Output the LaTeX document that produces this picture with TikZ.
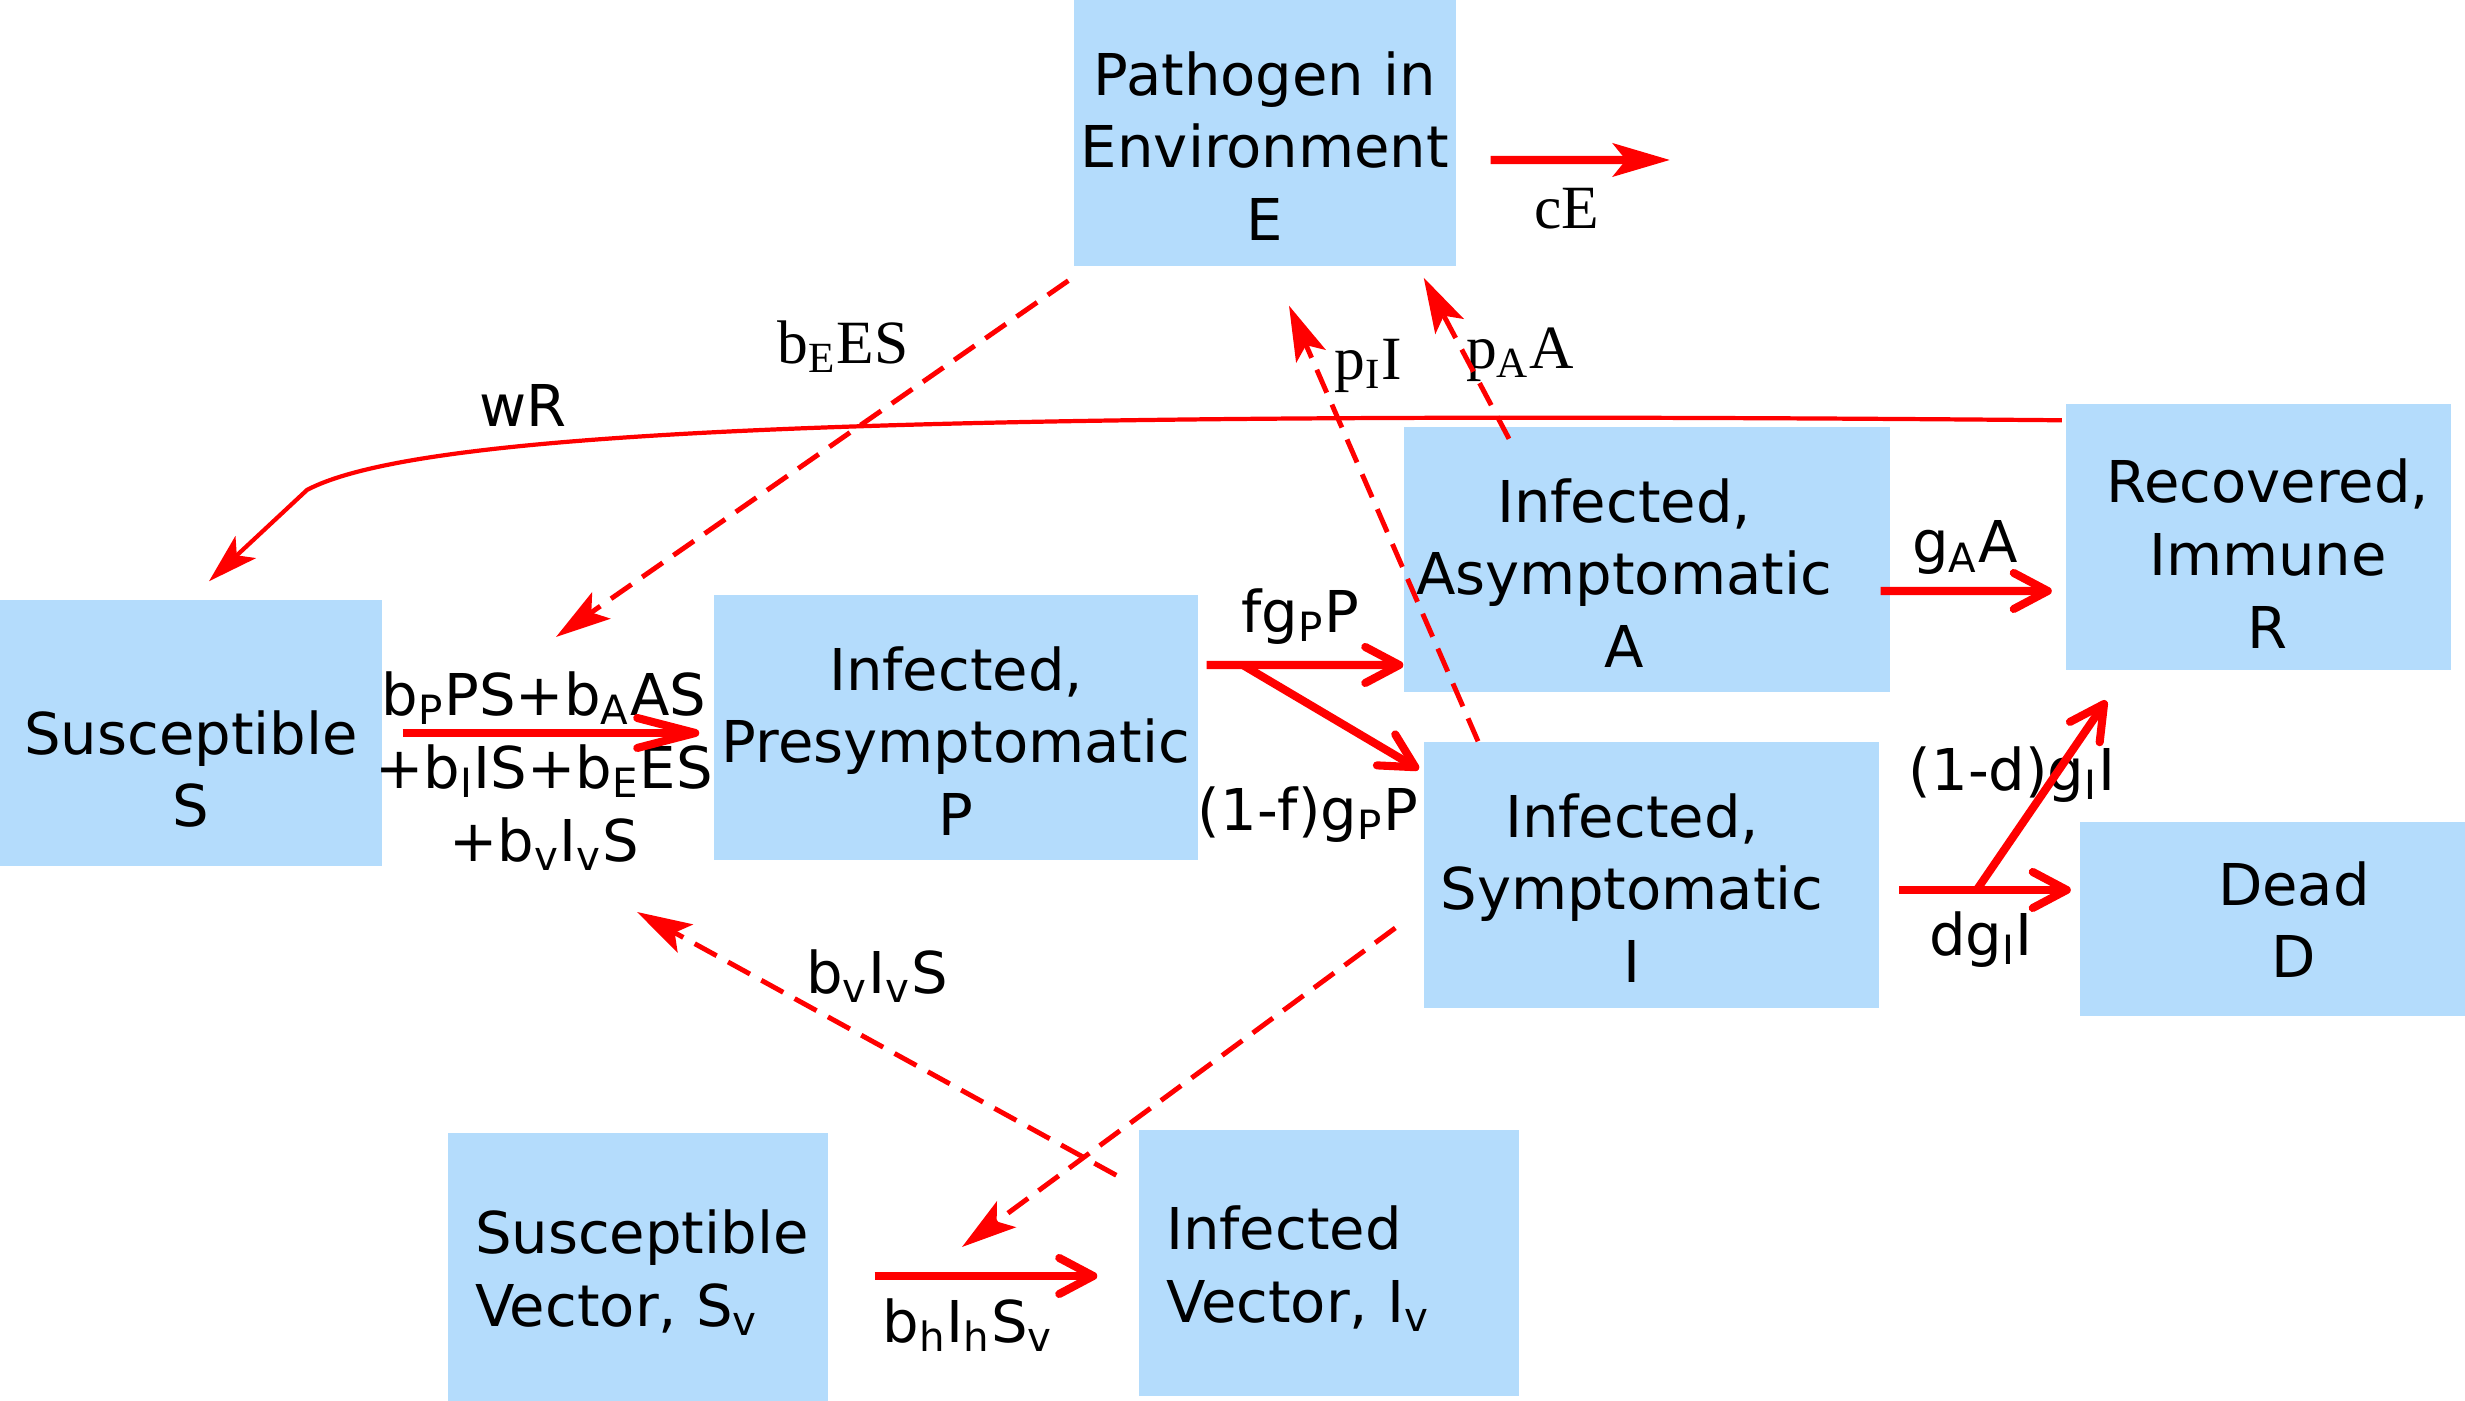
\documentclass[tikz,border=0pt]{standalone}
\usepackage{fontspec}
\setmainfont{DejaVu Sans}
\newfontfamily\timesfont{Liberation Serif}
\usetikzlibrary{arrows.meta}
\definecolor{CompBlue}{HTML}{B4DCFC}
\definecolor{FlowRed}{HTML}{FF0000}
\newcommand{\compfont}{\fontsize{16.4}{20.7}\selectfont}
\newcommand{\serifratefont}{\timesfont\fontsize{17.5}{21}\selectfont}

\begin{document}
\begin{tikzpicture}[
    lift/.style={execute at begin node={\rule{0pt}{#1}}},
    lift/.default=0.7cm,
    compartment/.style={fill=CompBlue,inner sep=0pt,align=center,font=\compfont,lift},
    vector/.style={compartment,lift=0.54cm,align=left,inner xsep=0.27cm,text width=3.26cm},
    rate/.style={inner sep=0pt,align=center,font=\compfont},
    serifrate/.style={inner sep=0pt,font=\serifratefont},
    flow/.style={-{Straight Barb[round,length=0.34cm,width=0.36cm]},line width=2.3pt,draw=FlowRed},
    longflow/.style={-{Straight Barb[round,length=0.58cm,width=0.3cm]},line width=2.3pt,draw=FlowRed},
    outflow/.style={-{Stealth[length=0.57cm,width=0.33cm,inset=0.13cm]},line width=2.3pt,draw=FlowRed},
    wane/.style={-{Stealth[length=0.5cm,width=0.3cm,inset=0.12cm]},line width=1.2pt,draw=FlowRed},
    contact/.style={-{Stealth[length=0.55cm,width=0.32cm,inset=0.12cm]},line width=1.4pt,
                    draw=FlowRed,dash pattern=on 0.25cm off 0.13cm}
  ]
    \useasboundingbox (0,0) rectangle (24.65,14.01);

    % compartments
    \node[compartment,text width=3.82cm,minimum height=2.66cm] (E) at (12.65,12.68) {Pathogen in\\Environment\\E};
    \node[compartment,lift=1.16cm,text width=3.82cm,minimum height=2.66cm] (S) at (1.91,6.68) {Susceptible\\S};
    \node[compartment,text width=4.84cm,minimum height=2.65cm] (P) at (9.56,6.73) {Infected,\\Presymptomatic\\P};
    \node[compartment,text width=4.86cm,minimum height=2.65cm] (A) at (16.47,8.41)
      {\hspace*{-0.46cm}Infected,\\\hspace*{-0.46cm}Asymptomatic\\\hspace*{-0.46cm}A};
    \node[compartment,text width=4.55cm,minimum height=2.66cm] (I) at (16.51,5.26)
      {\hspace*{-0.38cm}Infected,\\\hspace*{-0.38cm}Symptomatic\\\hspace*{-0.38cm}I};
    \node[compartment,lift=0.77cm,text width=3.85cm,minimum height=2.66cm] (R) at (22.58,8.64)
      {\hspace*{0.2cm}Recovered,\\\hspace*{0.2cm}Immune\\\hspace*{0.2cm}R};
    \node[compartment,lift=0.44cm,text width=3.85cm,minimum height=1.94cm] (D) at (22.72,4.82)
      {\hspace*{0.44cm}Dead\\\hspace*{0.44cm}D\rule[-0.25cm]{0pt}{0pt}};
    \node[vector,minimum height=2.68cm] (Sv) at (6.38,1.34) {Susceptible\\Vector, S\textsubscript{v}\rule[-0.24cm]{0pt}{0pt}};
    \node[vector,minimum height=2.66cm] (Iv) at (13.29,1.38) {Infected\\Vector, I\textsubscript{v}\rule[-0.24cm]{0pt}{0pt}};

    % rates
    \node[serifrate] (cE) at (15.67,11.92) {cE};
    \node[rate] (force) at (5.44,6.30) {b\textsubscript{P}PS+b\textsubscript{A}AS\\+b\textsubscript{I}IS+b\textsubscript{E}ES\\+b\textsubscript{v}I\textsubscript{v}S};
    \node[rate] (fgP) at (13.00,7.84) {fg\textsubscript{P}P};
    \node[rate] (nfgP) at (13.08,5.86) {(1-f)g\textsubscript{P}P};
    \node[rate] (gA) at (19.65,8.53) {g\textsubscript{A}A};
    \node[rate] (dgI) at (19.81,4.61) {dg\textsubscript{I}I};
    \node[rate] (ndgI) at (20.12,6.26) {(1-d)g\textsubscript{I}I};
    \node[rate] (bh) at (9.68,0.76) {b\textsubscript{h}I\textsubscript{h}S\textsubscript{v}};
    \node[rate] (wR) at (5.23,9.95) {wR};
    \node[serifrate] (bE) at (8.43,10.54) {b\textsubscript{E}ES};
    \node[serifrate] (pI) at (13.68,10.35) {p\textsubscript{I}I};
    \node[serifrate] (pA) at (15.20,10.46) {p\textsubscript{A}A};
    \node[rate] (bv) at (8.77,4.25) {b\textsubscript{v}I\textsubscript{v}S};

    % free ends and forks
    \coordinate (Esink) at (16.70,12.41);
    \coordinate (Pfork) at ([shift={(0.44,0.63)}]P.east);
    \coordinate (Ifork) at ([shift={(0.975,-0.15)}]I.east);
    \coordinate (forcein) at (5.56,7.64);
    \coordinate (vecin) at (9.62,1.54);
    \coordinate (bvin) at (6.37,4.89);

    % flows
    \draw[outflow] ([shift={(0.34,-0.27)}]E.east) -- (Esink);
    \draw[longflow,shorten <=0.2cm,shorten >=0.14cm] (S.east) -- (S.east -| P.west);
    \draw[flow] ([shift={(0.08,0.63)}]P.east) -- ([yshift=0.63cm]P.east -| A.west);
    \draw[flow] (Pfork) -- ([shift={(-0.04,-0.28)}]I.north west);
    \draw[flow,shorten >=0.13cm] ([shift={(-0.1,-0.31)}]A.east) -- ([yshift=-0.31cm]A.east -| R.west);
    \draw[flow,shorten >=0.08cm] ([shift={(0.2,-0.15)}]I.east) -- ([yshift=-0.15cm]I.east -| D.west);
    \draw[flow] (Ifork) -- ([shift={(0.415,-0.3)}]R.south west);
    \draw[flow,shorten >=0.41cm] ([shift={(0.46,-0.09)}]Sv.east) -- ([yshift=-0.09cm]Sv.east -| Iv.west);
    \draw[wane] ([shift={(-0.03,-0.17)}]R.north west) .. controls (9.00,9.91) and (4.20,9.71) .. (3.07,9.11)
      -- ([shift={(0.18,0.18)}]S.north);

    % contacts
    \draw[contact] ([shift={(-0.05,-0.14)}]E.south west) -- (forcein);
    \draw[contact] ([xshift=-1.73cm]I.north) -- ([shift={(0.24,-0.39)}]E.south);
    \draw[contact] ([shift={(-1.38,-0.12)}]A.north) -- ([shift={(-0.33,-0.11)}]E.south east);
    \draw[contact] ([shift={(-0.22,-0.46)}]Iv.north west) -- (bvin);
    \draw[contact] ([shift={(-0.275,-0.53)}]I.west) -- (vecin);
  \end{tikzpicture}
\end{document}
